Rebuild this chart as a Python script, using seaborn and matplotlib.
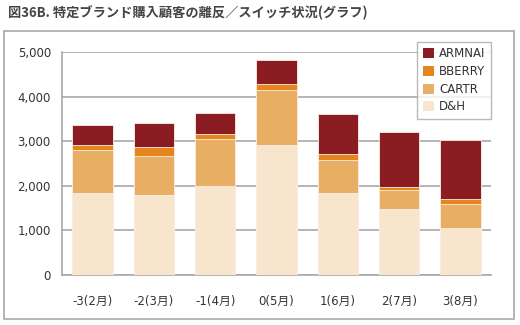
import matplotlib
matplotlib.use("Agg")
import matplotlib.pyplot as plt
import seaborn as sns
import pandas as pd
import numpy as np
from matplotlib.patches import Patch, Rectangle

categories = ["-3(2月)", "-2(3月)", "-1(4月)", "0(5月)", "1(6月)", "2(7月)", "3(8月)"]
dh = [1830, 1790, 2000, 2920, 1830, 1470, 1050]
cartr = [970, 880, 1045, 1235, 750, 435, 535]
bberry = [120, 210, 125, 125, 130, 60, 110]
armnai = [450, 520, 455, 545, 890, 1240, 1330]
y_ticks = [0, 1000, 2000, 3000, 4000, 5000]
title = "図36B. 特定ブランド購入顧客の離反／スイッチ状況(グラフ)"

series = ["ARMNAI", "BBERRY", "CARTR", "D&H"]
colors = {"ARMNAI": "#8a1c22", "BBERRY": "#e5861c", "CARTR": "#e8ae64", "D&H": "#f8e5cd"}

sns.set_theme(style="white")
plt.rcParams['font.family'] = ['DejaVu Sans', 'Noto Sans CJK JP']

df = pd.DataFrame({"cat": categories, "D&H": dh, "CARTR": cartr,
                   "BBERRY": bberry, "ARMNAI": armnai})
df["c_DH"] = df["D&H"]
df["c_CARTR"] = df["c_DH"] + df["CARTR"]
df["c_BBERRY"] = df["c_CARTR"] + df["BBERRY"]
df["c_ARMNAI"] = df["c_BBERRY"] + df["ARMNAI"]

fig = plt.figure(figsize=(5.2, 3.25), dpi=100)
ax = fig.add_axes([62/520, 1-275/325, (491-62)/520, 223/325])

for name, col in [("ARMNAI", "c_ARMNAI"), ("BBERRY", "c_BBERRY"),
                  ("CARTR", "c_CARTR"), ("D&H", "c_DH")]:
    sns.barplot(data=df, x="cat", y=col, color=colors[name], ax=ax,
                width=0.66, saturation=1, edgecolor="#fbeee6", linewidth=0.6,
                order=categories, zorder=3)

ax.set_ylim(0, 5000)
ax.set_xlim(-0.5, len(categories) - 0.5)
ax.set_yticks(y_ticks)
ax.set_yticklabels([f"{v:,}" for v in y_ticks])
ax.set_xlabel("")
ax.set_ylabel("")
ax.yaxis.grid(True, color="#a8a8a8", linewidth=1.2, zorder=0)
ax.set_axisbelow(True)
for s in ["top", "right"]:
    ax.spines[s].set_visible(False)
ax.spines["left"].set_color("#a8a8a8")
ax.spines["left"].set_linewidth(1.2)
ax.spines["bottom"].set_color("#a8a8a8")
ax.spines["bottom"].set_linewidth(1.2)
ax.tick_params(axis="y", length=0, pad=8, labelsize=8.5, labelcolor="#333333")
ax.tick_params(axis="x", which="major", length=0, pad=14, labelsize=8.5, labelcolor="#333333")
ax.set_xticks(np.arange(-0.5, len(categories), 1.0), minor=True)
ax.tick_params(axis="x", which="minor", length=4, width=1.2, color="#a8a8a8", direction="out")
for lbl in ax.get_xticklabels():
    lbl.set_fontfamily(['DejaVu Sans', 'Noto Sans CJK JP'])

handles = [Patch(facecolor=colors[n], edgecolor="none", label=n) for n in series]
leg = ax.legend(handles=handles, loc="upper right", bbox_to_anchor=(1.0, 1.045),
                borderaxespad=0, frameon=True, fancybox=False, fontsize=8.5,
                handlelength=0.95, handleheight=0.95, handletextpad=0.45,
                labelspacing=0.4, borderpad=0.45, edgecolor="#a8a8a8",
                prop={"family": "DejaVu Sans", "size": 8.5})
leg.get_frame().set_linewidth(1.0)
for t in leg.get_texts():
    t.set_color("#333333")

fig.patches.append(Rectangle((4/520, 1-319/325), 510/520, 288/325, transform=fig.transFigure,
                             fill=False, edgecolor="#b0b0b0", linewidth=1.3))
fig.text(8/520, 1-13/325, title, fontsize=9.5, fontweight="bold", color="#444444",
         va="center", ha="left", family=['Noto Sans CJK JP', 'DejaVu Sans'])

fig.savefig("out.png", dpi=100)
